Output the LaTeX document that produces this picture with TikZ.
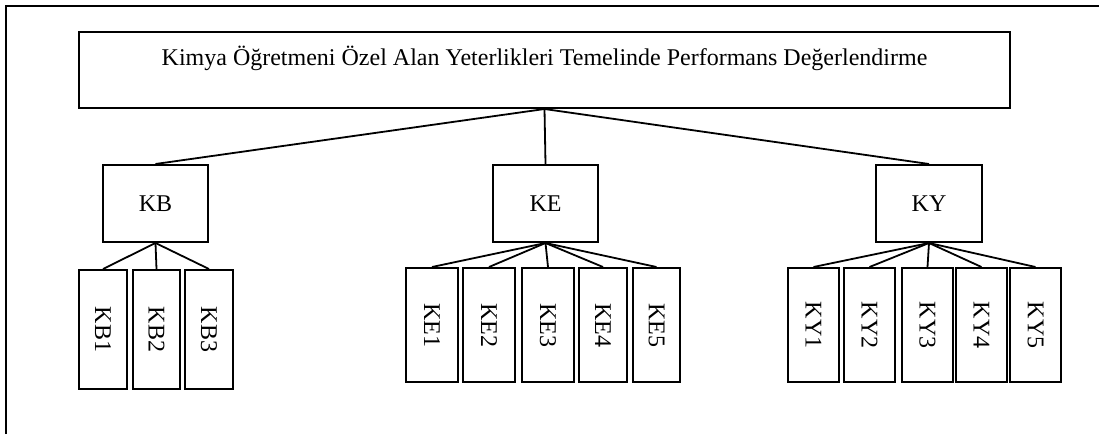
\documentclass[tikz,border=0pt]{standalone}
\usepackage{fontspec}
\setmainfont{Liberation Serif}
\begin{document}
\begin{tikzpicture}[x=1pt,y=-1pt,
  box/.style={draw,line width=2pt,inner sep=0pt,font=\fontsize{24}{28}\selectfont},
  mid/.style={box,minimum width=105pt,minimum height=77pt},
  leaf/.style={box,minimum height=#1},
  conn/.style={line width=1.8pt}]
\useasboundingbox (0,0) rectangle (1099,434);
\draw[line width=2.2pt] (6,434) -- (6,6) -- (1099,6);
\node[box,anchor=north,minimum width=931pt,text height=33pt,text depth=43pt] (top) at (544.5,31)
  {Kimya Öğretmeni Özel Alan Yeterlikleri Temelinde Performans Değerlendirme};
\node[mid] (kb) at (155.5,203.5) {KB};
\node[mid] (ke) at (545.5,203.5) {KE};
\node[mid,minimum width=106pt] (ky) at (929,203.5) {KY};
\draw[conn] (top.south) -- (kb.north);
\draw[conn] (top.south) -- (ke.north);
\draw[conn] (top.south) -- (ky.north);
% KB children
\node[leaf=119pt,minimum width=48pt] (kb1) at (103,329.5) {\rotatebox{-90}{KB1}};
\node[leaf=119pt,minimum width=47pt] (kb2) at (156.5,329.5) {\rotatebox{-90}{KB2}};
\node[leaf=119pt,minimum width=48pt] (kb3) at (209,329.5) {\rotatebox{-90}{KB3}};
\foreach \c in {kb1,kb2,kb3} \draw[conn] (kb.south) -- (\c.north);
% KE children
\node[leaf=114pt,minimum width=52pt] (ke1) at (432,325) {\rotatebox{-90}{KE1}};
\node[leaf=114pt,minimum width=52pt] (ke2) at (489,325) {\rotatebox{-90}{KE2}};
\node[leaf=114pt,minimum width=52pt] (ke3) at (548,325) {\rotatebox{-90}{KE3}};
\node[leaf=114pt,minimum width=48pt] (ke4) at (603,325) {\rotatebox{-90}{KE4}};
\node[leaf=114pt,minimum width=47pt] (ke5) at (656.5,325) {\rotatebox{-90}{KE5}};
\foreach \c in {ke1,ke2,ke3,ke4,ke5} \draw[conn] (ke.south) -- (\c.north);
% KY children
\node[leaf=114pt,minimum width=51pt] (ky1) at (813.5,325) {\rotatebox{-90}{KY1}};
\node[leaf=114pt,minimum width=51pt] (ky2) at (869.5,325) {\rotatebox{-90}{KY2}};
\node[leaf=114pt,minimum width=51pt] (ky3) at (927.5,325) {\rotatebox{-90}{KY3}};
\node[leaf=114pt,minimum width=51pt] (ky4) at (981.5,325) {\rotatebox{-90}{KY4}};
\node[leaf=114pt,minimum width=51pt] (ky5) at (1035.5,325) {\rotatebox{-90}{KY5}};
\foreach \c in {ky1,ky2,ky3,ky4,ky5} \draw[conn] (ky.south) -- (\c.north);
\end{tikzpicture}
\end{document}
